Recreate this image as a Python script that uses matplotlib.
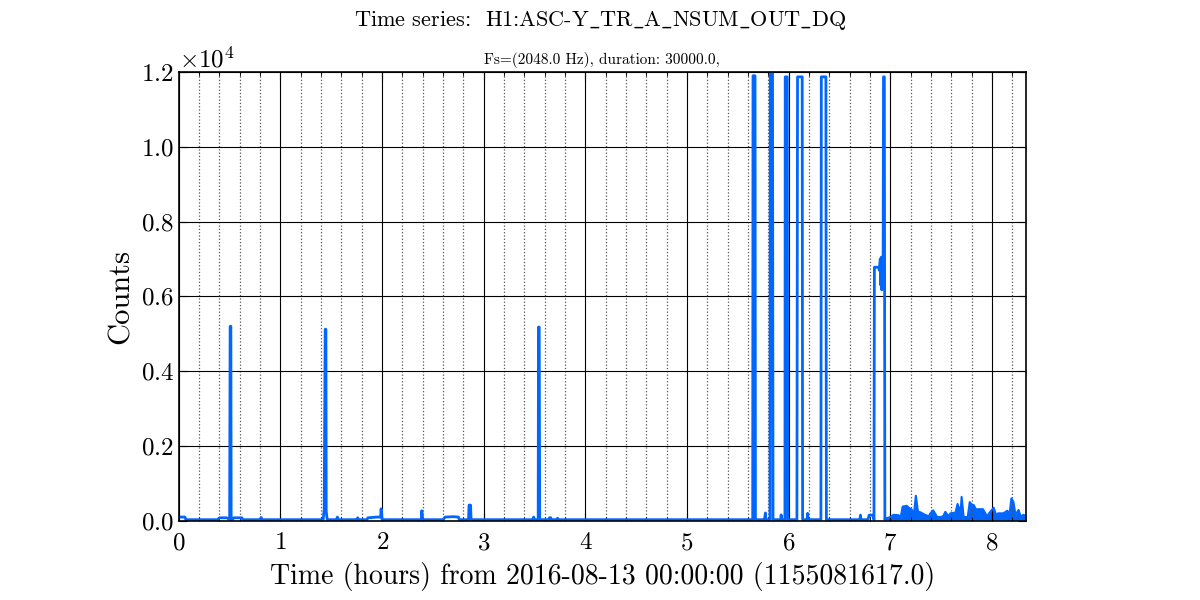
import numpy as np
import matplotlib
matplotlib.use("Agg")
import matplotlib.pyplot as plt
from matplotlib.ticker import MultipleLocator

plt.rcParams['font.family'] = 'serif'
plt.rcParams['font.serif'] = ['cmr10']
plt.rcParams['mathtext.fontset'] = 'cm'
plt.rcParams['axes.formatter.use_mathtext'] = True

# main trace (hours, counts)
t_hours = [0.00, 0.06, 0.07, 0.38, 0.40, 0.47, 0.50, 0.505, 0.512, 0.515,
           0.53, 0.54, 0.62, 0.63, 0.80, 0.81, 0.82, 1.42, 1.43, 1.44,
           1.447, 1.45, 1.46, 1.55, 1.56, 1.57, 1.75, 1.76, 1.77, 1.85,
           1.86, 1.95, 1.985, 1.99, 2.00, 2.385, 2.39, 2.40, 2.60, 2.62, 2.70,
           2.75, 2.76, 2.85, 2.855, 2.87, 2.875, 3.48, 3.49, 3.50, 3.535,
           3.538, 3.545, 3.55, 3.64, 3.645, 3.66, 3.665, 3.72, 3.725, 3.73,
           5.645, 5.648, 5.668, 5.672, 5.76, 5.77, 5.775, 5.815, 5.818, 5.84,
           5.845, 5.92, 5.925, 5.93, 5.962, 5.965, 5.985, 5.99, 6.08, 6.086,
           6.132, 6.136, 6.18, 6.185, 6.19, 6.316, 6.32, 6.365, 6.37, 6.70,
           6.705, 6.71, 6.78, 6.79, 6.83, 6.838, 6.842, 6.885, 6.89, 6.90,
           6.905, 6.91, 6.915, 6.92, 6.928, 6.932, 6.94, 6.945, 6.95]
counts = [100, 100, 30, 30, 80, 80, 40, 5200, 5200, 40,
          40, 80, 80, 30, 30, 90, 30, 30, 300, 5120,
          5120, 250, 30, 30, 100, 30, 30, 80, 30, 30,
          80, 100, 100, 320, 30, 30, 270, 30, 30, 100, 110,
          100, 30, 30, 420, 420, 30, 30, 100, 30, 30,
          5180, 5180, 30, 30, 80, 80, 30, 30, 70, 30,
          30, 11900, 11900, 30, 30, 210, 30, 30, 12000, 12000,
          30, 30, 160, 30, 30, 11870, 11870, 30, 30, 11870,
          11870, 30, 30, 200, 30, 30, 11870, 11870, 30, 30,
          150, 30, 30, 150, 150, 30, 6780, 6780, 6700, 7000,
          6300, 7050, 6174, 6900, 7000, 11870, 11870, 30, 60]

# noisy tail after ~7 h (envelope)
tail_hours = [6.95, 7.00, 7.03, 7.08, 7.10, 7.12, 7.16, 7.18, 7.21, 7.23,
              7.25, 7.27, 7.30, 7.34, 7.38, 7.39, 7.42, 7.46, 7.50, 7.52,
              7.54, 7.57, 7.59, 7.64, 7.66, 7.69, 7.70, 7.72, 7.76, 7.78,
              7.80, 7.82, 7.84, 7.87, 7.91, 7.95, 7.97, 8.015, 8.04, 8.06,
              8.11, 8.15, 8.17, 8.19, 8.21, 8.23, 8.26, 8.28, 8.31, 8.333]
tail_counts = [60, 100, 160, 150, 80, 380, 400, 350, 300, 150,
               670, 250, 220, 160, 120, 190, 280, 100, 100, 130,
               240, 120, 200, 220, 450, 220, 640, 100, 100, 500,
               430, 420, 310, 310, 310, 120, 200, 350, 150, 200,
               200, 270, 150, 600, 500, 160, 290, 120, 160, 120]

blue = '#0066ff'

fig = plt.figure(figsize=(12, 6), dpi=100)
ax = fig.add_axes([0.149, 0.132, 0.706, 0.748])

ax.plot(t_hours, counts, color=blue, lw=2)
ax.plot(tail_hours, tail_counts, color=blue, lw=1.5)
ax.fill_between(tail_hours, 20, tail_counts, color=blue, lw=0)

ax.set_xlim(0, 30000.0 / 3600)
ax.set_ylim(0, 12000)
ax.xaxis.set_major_locator(MultipleLocator(1))
ax.xaxis.set_minor_locator(MultipleLocator(0.2))
ax.yaxis.set_major_locator(MultipleLocator(2000))
ax.ticklabel_format(axis='y', style='sci', scilimits=(0, 0), useMathText=True)
ax.yaxis.get_offset_text().set_fontsize(18)

ax.grid(which='major', color='black', linestyle='-', lw=0.8)
ax.grid(which='minor', axis='x', color='#555555', linestyle=':', lw=0.9)
ax.tick_params(which='both', direction='in', top=True, right=True, labelsize=18)
ax.tick_params(which='major', length=6)
ax.tick_params(which='minor', length=3)
ax.tick_params(axis='x', pad=8)
for s in ax.spines.values():
    s.set_linewidth(1.2)

ax.set_xlabel('Time (hours) from 2016-08-13 00:00:00 (1155081617.0)', fontsize=20, labelpad=6)
ax.set_ylabel('Counts', fontsize=22)
fig.text(0.5, 0.965, r'Time series:  H1:ASC-Y$\_$TR$\_$A$\_$NSUM$\_$OUT$\_$DQ',
         ha='center', va='center', fontsize=16)
ax.set_title('Fs=(2048.0 Hz), duration: 30000.0,', fontsize=11, pad=6)

fig.savefig('out.png', dpi=100)
